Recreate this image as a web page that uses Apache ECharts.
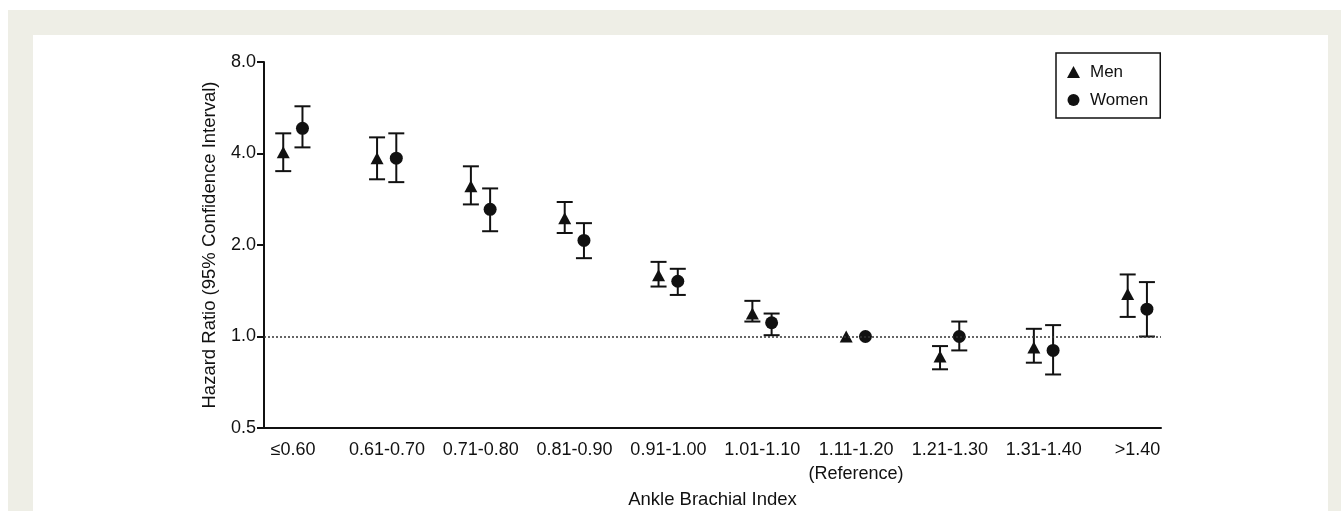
<!DOCTYPE html>
<html>
<head>
<meta charset="utf-8">
<script src="https://cdn.jsdelivr.net/npm/echarts@6/dist/echarts.min.js"></script>
<style>
html,body{margin:0;padding:0;background:#fff;}
#chart{width:1341px;height:511px;}
</style>
</head>
<body>
<div id="chart"></div>
<script>
const categories = ['≤0.60','0.61-0.70','0.71-0.80','0.81-0.90','0.91-1.00','1.01-1.10','1.11-1.20\n(Reference)','1.21-1.30','1.31-1.40','>1.40'];
const menHR   = [4.04, 3.86, 3.12, 2.45, 1.59, 1.19, 1.00, 0.86, 0.92, 1.38];
const menLow  = [3.50, 3.29, 2.72, 2.19, 1.46, 1.12, 1.00, 0.78, 0.82, 1.16];
const menHigh = [4.66, 4.52, 3.63, 2.77, 1.76, 1.31, 1.00, 0.93, 1.06, 1.60];
const womenHR   = [4.84, 3.86, 2.62, 2.07, 1.52, 1.11, 1.00, 1.00, 0.90, 1.23];
const womenLow  = [4.19, 3.22, 2.22, 1.81, 1.37, 1.01, 1.00, 0.90, 0.75, 1.00];
const womenHigh = [5.72, 4.66, 3.07, 2.36, 1.67, 1.19, 1.00, 1.12, 1.09, 1.51];
const yTicks = [0.5, 1, 2, 4, 8];

const MEN_OFF = -0.105, WOMEN_OFF = 0.1;
const FONT = "'Liberation Sans', Arial, Helvetica, sans-serif";
const INK = '#111';

const idx = categories.map((c, i) => i);
const menPts = idx.map(i => [i + MEN_OFF, menHR[i]]);
const womenPts = idx.map(i => [i + WOMEN_OFF, womenHR[i]]);
const menCI = idx.filter(i => menHigh[i] > menLow[i]).map(i => [i + MEN_OFF, menLow[i], menHigh[i]]);
const womenCI = idx.filter(i => womenHigh[i] > womenLow[i]).map(i => [i + WOMEN_OFF, womenLow[i], womenHigh[i]]);

function errRender(params, api) {
  const x = api.value(0), lo = api.value(1), hi = api.value(2);
  const a = api.coord([x, lo]), b = api.coord([x, hi]);
  const hw = 8;
  const st = { stroke: INK, lineWidth: 2 };
  return { type: 'group', children: [
    { type: 'line', shape: { x1: a[0], y1: a[1], x2: b[0], y2: b[1] }, style: st },
    { type: 'line', shape: { x1: b[0] - hw, y1: b[1], x2: b[0] + hw, y2: b[1] }, style: st },
    { type: 'line', shape: { x1: a[0] - hw, y1: a[1], x2: a[0] + hw, y2: a[1] }, style: st }
  ]};
}

const chart = echarts.init(document.getElementById('chart'), null, { renderer: 'canvas' });
chart.setOption({
  animation: false,
  backgroundColor: '#ffffff',
  textStyle: { fontFamily: FONT, color: INK },
  graphic: [
    { type: 'rect', z: -10, silent: true, shape: { x: 8, y: 10, width: 1333, height: 501 }, style: { fill: '#eeeee6' } },
    { type: 'rect', z: -9, silent: true, shape: { x: 33, y: 35, width: 1295, height: 476 }, style: { fill: '#ffffff' } }
  ],
  grid: { left: 264, right: 180, top: 62, bottom: 83, containLabel: false, outerBoundsMode: 'none' },
  legend: {
    data: ['Men', 'Women'],
    orient: 'vertical',
    left: 1056, top: 53,
    borderColor: INK, borderWidth: 1.5,
    padding: [10, 12, 9, 11],
    itemGap: 10,
    itemWidth: 13, itemHeight: 12,
    itemStyle: { color: INK, opacity: 1 },
    textStyle: { fontFamily: FONT, fontSize: 17, color: INK, lineHeight: 18, padding: [0, 0, 0, 5] },
    selectedMode: false
  },
  xAxis: {
    type: 'value',
    min: -0.31, max: 9.25,
    splitLine: { show: false },
    axisLine: { show: true, onZero: false, lineStyle: { color: INK, width: 2 } },
    axisTick: { show: false },
    axisLabel: {
      customValues: idx,
      formatter: v => categories[Math.round(v)] || '',
      fontFamily: FONT, fontSize: 18, color: INK, margin: 10, lineHeight: 24
    },
    name: 'Ankle Brachial Index',
    nameLocation: 'middle',
    nameGap: 47,
    nameTextStyle: { fontFamily: FONT, fontSize: 18.5, color: INK }
  },
  yAxis: {
    type: 'log',
    logBase: 2,
    min: 0.5, max: 8,
    splitLine: { show: false },
    axisLine: { show: true, onZero: false, lineStyle: { color: INK, width: 2 } },
    axisTick: { show: true, length: 7, lineStyle: { color: INK, width: 2 }, customValues: yTicks },
    axisLabel: { customValues: yTicks, formatter: v => Number(v).toFixed(1), fontFamily: FONT, fontSize: 18, color: INK, margin: 8 },
    name: 'Hazard Ratio (95% Confidence Interval)',
    nameLocation: 'middle',
    nameGap: 45,
    nameTextStyle: { fontFamily: FONT, fontSize: 18.5, color: INK }
  },
  series: [
    { name: 'MenCI', type: 'custom', renderItem: errRender, data: menCI, encode: { x: 0, y: [1, 2] }, z: 2, silent: true },
    { name: 'WomenCI', type: 'custom', renderItem: errRender, data: womenCI, encode: { x: 0, y: [1, 2] }, z: 2, silent: true },
    {
      name: 'Men', type: 'scatter', data: menPts, symbol: 'triangle', symbolSize: [13, 12],
      itemStyle: { color: INK, opacity: 1 }, z: 3,
      markLine: {
        silent: true, symbol: 'none', label: { show: false },
        lineStyle: { color: '#333', type: [2, 2], width: 1.5 },
        data: [{ yAxis: 1 }]
      }
    },
    { name: 'Women', type: 'scatter', data: womenPts, symbol: 'circle', symbolSize: 13, itemStyle: { color: INK, opacity: 1 }, z: 3 }
  ]
});
</script>
</body>
</html>
